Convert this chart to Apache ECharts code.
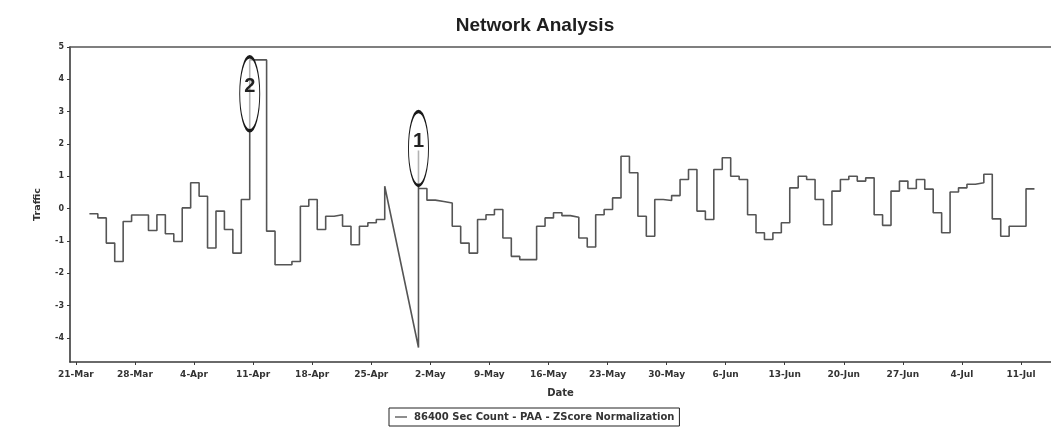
<!DOCTYPE html>
<html>
<head>
<meta charset="utf-8">
<script src="https://cdn.jsdelivr.net/npm/echarts@6/dist/echarts.min.js"></script>
<style>
  html, body { margin: 0; padding: 0; background: #ffffff; }
  #chart { width: 1051px; height: 429px; }
</style>
</head>
<body>
<div id="chart"></div>
<script>
// ---- data -------------------------------------------------------------
const YEAR = 2009;

const tickLabels = ['21-Mar', '28-Mar', '4-Apr', '11-Apr', '18-Apr', '25-Apr', '2-May', '9-May',
  '16-May', '23-May', '30-May', '6-Jun', '13-Jun', '20-Jun', '27-Jun', '4-Jul', '11-Jul'];

const yTicks = [-4, -3, -2, -1, 0, 1, 2, 3, 4, 5];

// daily z-scores, 22-Mar .. 25-Apr
const firstRunStart = '22-Mar';
const firstRun = [
  -0.16, -0.29, -1.07, -1.64, -0.40, -0.20, -0.20, -0.68, -0.19, -0.78,
  -1.02, 0.02, 0.80, 0.38, -1.22, -0.08, -0.65, -1.38, 0.28, 4.60,
  4.60, -0.70, -1.74, -1.74, -1.64, 0.07, 0.28, -0.65, -0.24, -0.19,
  -0.55, -1.12, -0.55, -0.44, -0.34
];

// single readings across the outage between the two runs
const outagePeak = 0.69;   // closes the first run
const outageLow = -4.3;    // opens the second run
const outageHigh = 1.8;

// daily z-scores, 30-Apr .. 11-Jul
const secondRunStart = '30-Apr';
const secondRun = [
  0.62, 0.26, 0.22, 0.17, -0.55, -1.07, -1.38, -0.34, -0.19, -0.03,
  -0.91, -1.48, -1.58, -1.58, -0.55, -0.29, -0.13, -0.22, -0.27, -0.91,
  -1.19, -0.19, -0.03, 0.33, 1.62, 1.11, -0.24, -0.86, 0.28, 0.25,
  0.40, 0.90, 1.21, -0.08, -0.34, 1.21, 1.57, 1.00, 0.90, -0.19,
  -0.75, -0.96, -0.75, -0.44, 0.64, 1.00, 0.90, 0.28, -0.50, 0.54,
  0.90, 1.00, 0.85, 0.95, -0.19, -0.52, 0.54, 0.85, 0.62, 0.90,
  0.60, -0.13, -0.75, 0.51, 0.64, 0.75, 0.80, 1.06, -0.32, -0.86,
  -0.55, -0.55, 0.61
];

// circled anomalies
const annotations = [
  { label: '2', date: '10-Apr', value: 3.55 },
  { label: '1', date: '30-Apr', value: 1.86 }
];

const seriesName = '86400 Sec Count - PAA - ZScore Normalization';

// ---- helpers ----------------------------------------------------------
const MONTHS = { Mar: 2, Apr: 3, May: 4, Jun: 5, Jul: 6 };
const DAY_MS = 86400000;
const origin = Date.UTC(YEAR, 2, 21);
function dayIndex(label) {
  const parts = label.split('-');
  return Math.round((Date.UTC(YEAR, MONTHS[parts[1]], +parts[0]) - origin) / DAY_MS);
}

// each daily bucket is drawn as a flat segment, shifted a little past the midnight tick
const bucketShift = 0.6;

const points = [];
function addRun(startLabel, values) {
  const s = dayIndex(startLabel) + bucketShift;
  values.forEach(function (v, i) {
    points.push([s + i, v], [s + i + 1, v]);
  });
}
addRun(firstRunStart, firstRun);
points.push([dayIndex(firstRunStart) + bucketShift + firstRun.length, outagePeak]);
const secondStart = dayIndex(secondRunStart) + bucketShift;
points.push([secondStart, outageLow], [secondStart, outageHigh]);
addRun(secondRunStart, secondRun);

const tickDays = tickLabels.map(dayIndex);

// ellipse outline sized like the symbol box so the stroke keeps an even width
const ellipsePath = 'path://M0,37 A10,37 0 1,1 20,37 A10,37 0 1,1 0,37 Z';

const axisColor = '#3a3a3a';
const textColor = '#333333';
const smallFont = 'DejaVu Sans, Verdana, sans-serif';
const xMin = -0.7, xMax = 115.56;

// ---- chart ------------------------------------------------------------
const chart = echarts.init(document.getElementById('chart'), null, { renderer: 'canvas' });

chart.setOption({
  backgroundColor: '#ffffff',
  animation: false,
  title: {
    text: 'Network Analysis',
    left: 535,
    top: 16,
    padding: 0,
    textAlign: 'center',
    textStyle: { fontFamily: 'Liberation Sans, Arial, sans-serif', fontSize: 19, fontWeight: 'bold', color: '#1e1e1e' }
  },
  legend: {
    data: [seriesName],
    left: 389,
    top: 408,
    padding: [4, 5, 4, 6],
    borderColor: '#222222',
    borderWidth: 1,
    itemWidth: 12,
    itemHeight: 2,
    itemGap: 6,
    icon: 'path://M0,0 H20 V2 H0 Z',
    itemStyle: { color: '#444444' },
    textStyle: { fontFamily: smallFont, fontSize: 10, fontWeight: 'bold', color: textColor, padding: [0, 0, 0, 2] }
  },
  grid: { left: 70, right: 0, top: 47, bottom: 67 },
  xAxis: [
    {
      type: 'value',
      min: xMin,
      max: xMax,
      name: 'Date',
      nameLocation: 'middle',
      nameGap: 26,
      nameTextStyle: { fontFamily: smallFont, fontSize: 10, fontWeight: 'bold', color: textColor },
      axisLine: { show: true, onZero: false, lineStyle: { color: axisColor, width: 1.6 } },
      axisTick: { show: true, length: 3, customValues: tickDays, lineStyle: { color: axisColor } },
      axisLabel: {
        customValues: tickDays,
        margin: 8,
        fontFamily: smallFont,
        fontSize: 9,
        fontWeight: 'bold',
        color: textColor,
        formatter: function (v) {
          const i = tickDays.indexOf(Math.round(v));
          return i >= 0 ? tickLabels[i] : '';
        }
      },
      splitLine: { show: false }
    },
    {
      type: 'value',
      position: 'top',
      min: xMin,
      max: xMax,
      axisLine: { show: true, onZero: false, lineStyle: { color: '#555555', width: 1.6 } },
      axisTick: { show: false },
      axisLabel: { show: false },
      splitLine: { show: false }
    }
  ],
  yAxis: {
    type: 'value',
    min: -4.75,
    max: 5,
    name: 'Traffic',
    nameLocation: 'middle',
    nameGap: 27,
    nameTextStyle: { fontFamily: smallFont, fontSize: 9.5, fontWeight: 'bold', color: textColor },
    axisLine: { show: true, onZero: false, lineStyle: { color: axisColor, width: 1.6 } },
    axisTick: { show: true, length: 3, customValues: yTicks, lineStyle: { color: axisColor } },
    axisLabel: {
      customValues: yTicks,
      margin: 6,
      fontFamily: smallFont,
      fontSize: 8,
      fontWeight: 'bold',
      color: textColor
    },
    splitLine: { show: false }
  },
  series: [
    {
      name: seriesName,
      type: 'line',
      xAxisIndex: 0,
      data: points,
      showSymbol: false,
      symbol: 'none',
      lineStyle: { color: '#555555', width: 1.6 },
      itemStyle: { color: '#444444' },
      markPoint: {
        symbol: ellipsePath,
        silent: true,
        itemStyle: { color: 'rgba(255,255,255,0.55)', borderColor: '#1a1a1a', borderWidth: 1.8 },
        label: {
          show: true,
          position: 'inside',
          offset: [0, -7],
          formatter: '{b}',
          fontFamily: 'Liberation Sans, Arial, sans-serif',
          fontSize: 20,
          fontWeight: 'bold',
          color: '#222222'
        },
        data: annotations.map(function (a) {
          return {
            name: a.label,
            coord: [dayIndex(a.date) + bucketShift, a.value],
            symbolSize: [20, 74]
          };
        })
      }
    }
  ]
});
</script>
</body>
</html>
